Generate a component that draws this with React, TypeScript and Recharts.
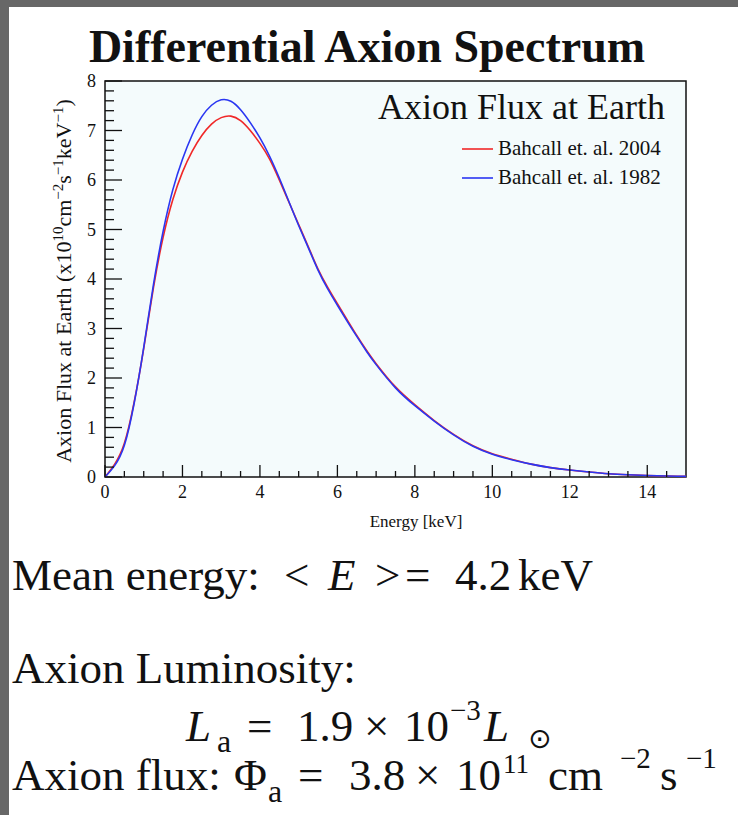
import React from 'react';
import { LineChart, Line, XAxis, YAxis, CartesianGrid, ReferenceArea } from 'recharts';

// energy grid [keV] and fluxes [1e10 cm^-2 s^-1 keV^-1]
const energy = [
  0, 0.25, 0.5, 0.75, 1, 1.25, 1.5, 1.75, 2, 2.25, 2.5, 2.75, 3, 3.25, 3.5, 3.75, 4,
  4.25, 4.5, 4.75, 5, 5.25, 5.5, 5.75, 6, 6.25, 6.5, 6.75, 7, 7.5, 8, 8.5, 9, 9.5,
  10, 10.5, 11, 11.5, 12, 12.5, 13, 13.5, 14, 14.5, 15,
];
const flux2004 = [
  0, 0.26, 0.68, 1.5, 2.6, 3.82, 4.84, 5.6, 6.16, 6.58, 6.9, 7.13, 7.26, 7.29, 7.2, 7.0, 6.74,
  6.42, 6.0, 5.55, 5.1, 4.65, 4.2, 3.83, 3.5, 3.18, 2.86, 2.56, 2.29, 1.82, 1.46, 1.14, 0.86, 0.63,
  0.47, 0.36, 0.26, 0.19, 0.14, 0.1, 0.066, 0.045, 0.03, 0.02, 0.012,
];
const flux1982 = [
  0, 0.23, 0.64, 1.48, 2.62, 3.88, 4.96, 5.8, 6.42, 6.91, 7.28, 7.51, 7.62, 7.59, 7.42, 7.16, 6.85,
  6.48, 6.04, 5.56, 5.08, 4.63, 4.18, 3.8, 3.47, 3.15, 2.84, 2.54, 2.27, 1.8, 1.44, 1.13, 0.85, 0.62,
  0.46, 0.35, 0.26, 0.19, 0.14, 0.1, 0.066, 0.045, 0.03, 0.02, 0.012,
];

const xMajorTicks = [0, 2, 4, 6, 8, 10, 12, 14];
const yMajorTicks = [0, 1, 2, 3, 4, 5, 6, 7, 8];
// minor divisions: 4 per major on x, 5 per major on y
const xTicks = Array.from({ length: 30 }, (_, i) => i / 2);
const yTicks = Array.from({ length: 41 }, (_, i) => Math.round(i * 2) / 10);

const data = energy.map((e, i) => ({ e, r: flux2004[i], b: flux1982[i] }));

const SERIF = '"Liberation Serif", "Times New Roman", serif';
const RED = '#f02828';
const BLUE = '#2a36f2';

const XTick = (props: any) => {
  const { x, y, payload } = props;
  const v = payload.value;
  const major = xMajorTicks.includes(v);
  return (
    <g>
      <line x1={x} x2={x} y1={y} y2={y - (major ? 12 : 6)} stroke="#111" strokeWidth={1.3} />
      {major && (
        <text x={x} y={y + 21} textAnchor="middle" fontSize={18} fontFamily={SERIF} fill="#111">
          {v}
        </text>
      )}
    </g>
  );
};

const YTick = (props: any) => {
  const { x, y, payload } = props;
  const v = payload.value;
  const major = yMajorTicks.includes(v);
  return (
    <g>
      <line x1={x} x2={x + (major ? 17 : 9)} y1={y} y2={y} stroke="#111" strokeWidth={1.3} />
      {major && (
        <text x={x - 9} y={y + 6} textAnchor="end" fontSize={18} fontFamily={SERIF} fill="#111">
          {v}
        </text>
      )}
    </g>
  );
};

const Overlay = () => (
  <svg width={738} height={815} style={{ position: 'absolute', left: 0, top: 0, pointerEvents: 'none' }}>
    <g fontFamily={SERIF} fill="#111">
      <text x={367} y={62} textAnchor="middle" fontSize={46} fontWeight="bold">
        Differential Axion Spectrum
      </text>

      {/* legend */}
      <text x={665} y={119} textAnchor="end" fontSize={36}>Axion Flux at Earth</text>
      <line x1={462} x2={493} y1={149} y2={149} stroke={RED} strokeWidth={1.6} />
      <text x={498} y={155} fontSize={21}>Bahcall et. al. 2004</text>
      <line x1={462} x2={493} y1={178} y2={178} stroke={BLUE} strokeWidth={1.6} />
      <text x={498} y={184} fontSize={21}>Bahcall et. al. 1982</text>

      {/* axis titles */}
      <text transform="translate(71, 281) rotate(-90)" textAnchor="middle" fontSize={22}>
        Axion Flux at Earth (x10
        <tspan dy={-8} fontSize={15}>10</tspan>
        <tspan dy={8}>cm</tspan>
        <tspan dy={-8} fontSize={15}>−2</tspan>
        <tspan dy={8}>s</tspan>
        <tspan dy={-8} fontSize={15}>−1</tspan>
        <tspan dy={8}>keV</tspan>
        <tspan dy={-8} fontSize={15}>−1</tspan>
        <tspan dy={8}>)</tspan>
      </text>
      <text x={416} y={527} textAnchor="middle" fontSize={17}>Energy [keV]</text>

      {/* formulas */}
      <g fontSize={45}>
        <text x={12} y={590}>Mean energy:</text>
        <text x={284} y={590}>&lt;</text>
        <text x={328} y={590} fontStyle="italic">E</text>
        <text x={375} y={590}>&gt;</text>
        <text x={405} y={590}>=</text>
        <text x={455} y={590}>4.2</text>
        <text x={518} y={590}>keV</text>

        <text x={12} y={683}>Axion Luminosity:</text>

        <text x={186} y={741} fontStyle="italic">L</text>
        <text x={217} y={752} fontSize={32}>a</text>
        <text x={247} y={741}>=</text>
        <text x={297} y={741}>1.9</text>
        <text x={364} y={741}>×</text>
        <text x={404} y={741}>10</text>
        <text x={450} y={720} fontSize={29}>−3</text>
        <text x={484} y={741} fontStyle="italic">L</text>
        <text x={528} y={748} fontSize={28} fontFamily='"DejaVu Sans", sans-serif'>⊙</text>

        <text x={12} y={790}>Axion flux:</text>
        <text x={234} y={790}>Φ</text>
        <text x={268} y={802} fontSize={32}>a</text>
        <text x={298} y={790}>=</text>
        <text x={349} y={790}>3.8</text>
        <text x={415} y={790}>×</text>
        <text x={456} y={790}>10</text>
        <text x={503} y={773} fontSize={27}>11</text>
        <text x={548} y={790}>cm</text>
        <text x={620} y={768} fontSize={29}>−2</text>
        <text x={660} y={790}>s</text>
        <text x={686} y={768} fontSize={29}>−1</text>
      </g>
    </g>
  </svg>
);

export default function App() {
  return (
    <div style={{ position: 'absolute', left: 0, top: 0, width: 738, height: 815, background: '#fff', overflow: 'hidden' }}>
      <div style={{ position: 'absolute', left: 0, top: 0, width: 738, height: 7, background: '#676767' }} />
      <div style={{ position: 'absolute', left: 0, top: 0, width: 9, height: 815, background: '#676767' }} />
      <div style={{ position: 'absolute', left: 0, top: 0 }}>
        <LineChart width={738} height={545} data={data} margin={{ top: 81, right: 52, bottom: 67, left: 104 }}>
          <CartesianGrid horizontal={false} vertical={false} fill="#f4fbfc" fillOpacity={1} />
          <XAxis
            dataKey="e"
            type="number"
            domain={[0, 15]}
            ticks={xTicks}
            interval={0}
            height={1}
            axisLine={false}
            tickLine={false}
            tickSize={0}
            tickMargin={0}
            tick={<XTick />}
          />
          <YAxis
            type="number"
            domain={[0, 8]}
            ticks={yTicks}
            interval={0}
            width={1}
            axisLine={false}
            tickLine={false}
            tickSize={0}
            tickMargin={0}
            tick={<YTick />}
          />
          <Line type="natural" dataKey="r" stroke={RED} strokeWidth={1.6} dot={false} isAnimationActive={false} />
          <Line type="natural" dataKey="b" stroke={BLUE} strokeWidth={1.6} dot={false} isAnimationActive={false} />
          <ReferenceArea x1={0} x2={15} y1={0} y2={8} fill="none" stroke="#111" strokeWidth={1.5} />
        </LineChart>
      </div>
      <Overlay />
    </div>
  );
}
